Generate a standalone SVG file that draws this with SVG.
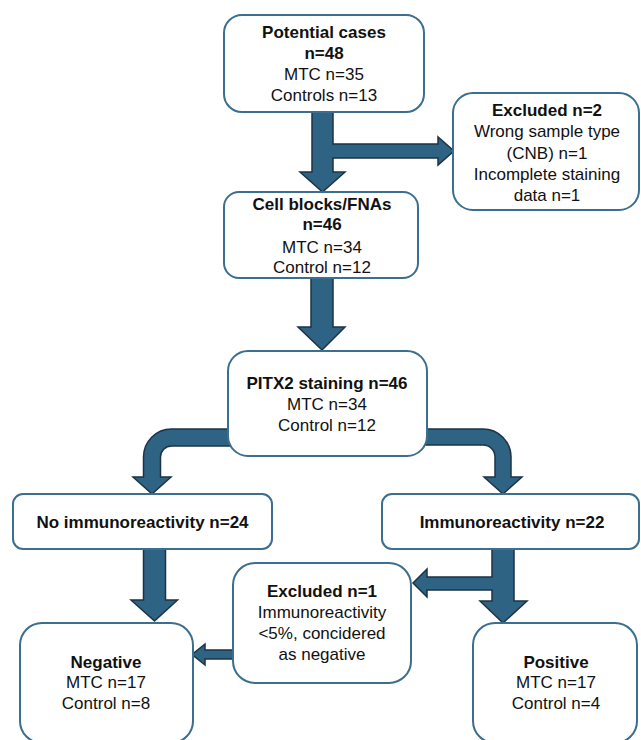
<svg xmlns="http://www.w3.org/2000/svg" width="641" height="740" viewBox="0 0 641 740">
<style>
.box{fill:#fff;stroke:#3B6E8F;stroke-width:2}
.arr{fill:#2E6384;stroke:#1C3344;stroke-width:1.5;stroke-linejoin:miter}
text{font-family:"Liberation Sans",Arial,sans-serif;font-size:17px;fill:#111;text-anchor:middle}
.b{font-weight:bold}
</style>
<rect width="641" height="740" fill="#fff"/>
<g id="connectors">
<path class="arr" d="M312,108 L312,172 L300,172 L322.5,192 L345,172 L333,172 L333,158 L438,158 L438,165 L454,151 L438,137 L438,144 L333,144 L333,108 Z"/>
<path class="arr" d="M311,276 L311,327 L298,327 L322,350 L345,327 L333,327 L333,276 Z"/>
<path class="arr" d="M232,429 L171.5,429 A28,28 0 0 0 143.5,457 L143.5,477 L133,477 L152,494 L171,477 L160.5,477 L160.5,457 A11,11 0 0 1 171.5,446 L232,446 Z"/>
<path class="arr" d="M423,429 L483,429 A28,28 0 0 1 511,457 L511,477 L522,477 L503,494 L484,477 L495,477 L495,457 A12,12 0 0 0 483,445 L423,445 Z"/>
<path class="arr" d="M143.5,547 L143.5,600 L131,600 L154.5,621 L177.5,600 L165.5,600 L165.5,547 Z"/>
<path class="arr" d="M492,547 L492,577 L427,577 L427,569 L413,583 L427,597 L427,590 L492,590 L492,601 L480,601 L503,623 L527,601 L514,601 L514,547 Z"/>
<path class="arr" d="M236,650 L205,650 L205,644 L192,654.5 L205,665 L205,659 L236,659 Z"/>
</g>
<g id="potential">
<rect class="box" x="224" y="15" width="200" height="97" rx="18"/>
<text class="b" x="324" y="38">Potential cases</text>
<text class="b" x="324" y="58.5">n=48</text>
<text x="324" y="80">MTC n=35</text>
<text x="324" y="100.5">Controls n=13</text>
</g>
<g id="excluded2">
<rect class="box" x="453" y="93" width="186" height="117" rx="20"/>
<text class="b" x="547" y="116">Excluded n=2</text>
<text x="547" y="137">Wrong sample type</text>
<text x="547" y="159">(CNB) n=1</text>
<text x="547" y="180">Incomplete staining</text>
<text x="547" y="200.5">data n=1</text>
</g>
<g id="cellblocks">
<rect class="box" x="224" y="192" width="194" height="86" rx="15"/>
<text class="b" x="322" y="210">Cell blocks/FNAs</text>
<text class="b" x="322" y="230">n=46</text>
<text x="322" y="252.5">MTC n=34</text>
<text x="322" y="273">Control n=12</text>
</g>
<g id="pitx2">
<rect class="box" x="228" y="351" width="199" height="105" rx="20"/>
<text class="b" x="327" y="389">PITX2 staining n=46</text>
<text x="327" y="410">MTC n=34</text>
<text x="327" y="430.5">Control n=12</text>
</g>
<g id="noimmuno">
<rect class="box" x="13" y="494" width="259" height="55" rx="10"/>
<text class="b" x="142.5" y="527.5">No immunoreactivity n=24</text>
</g>
<g id="immuno">
<rect class="box" x="382" y="494" width="257" height="55" rx="10"/>
<text class="b" x="512" y="527.5">Immunoreactivity n=22</text>
</g>
<g id="excluded1">
<rect class="box" x="233" y="563" width="178" height="120" rx="22"/>
<text class="b" x="322" y="597">Excluded n=1</text>
<text x="322" y="618">Immunoreactivity</text>
<text x="322" y="639">&lt;5%, concidered</text>
<text x="322" y="660">as negative</text>
</g>
<g id="negative">
<rect class="box" x="20" y="623" width="173" height="120" rx="22"/>
<text class="b" x="106" y="667.5">Negative</text>
<text x="106" y="688">MTC n=17</text>
<text x="106" y="709">Control n=8</text>
</g>
<g id="positive">
<rect class="box" x="473" y="623" width="164" height="120" rx="22"/>
<text class="b" x="556" y="668">Positive</text>
<text x="556" y="688">MTC n=17</text>
<text x="556" y="709">Control n=4</text>
</g>
</svg>
